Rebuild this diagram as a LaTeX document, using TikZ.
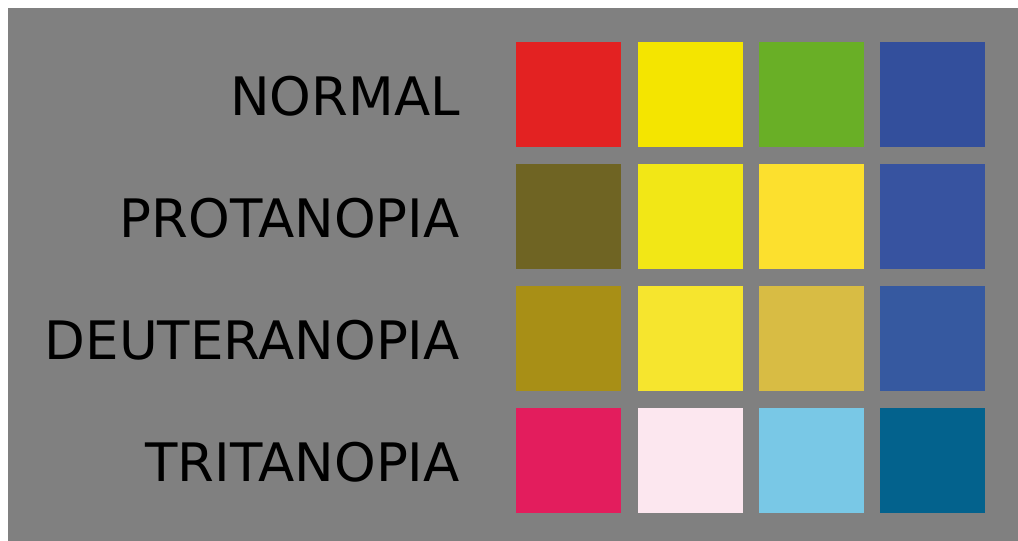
\documentclass[tikz,border=0pt]{standalone}
\usepackage{fontspec}
\setmainfont{DejaVu Sans}
\usetikzlibrary{positioning}

\definecolor{bggray}{HTML}{808080}
\definecolor{normRed}{HTML}{E32222}
\definecolor{normYellow}{HTML}{F4E500}
\definecolor{normGreen}{HTML}{69AF26}
\definecolor{normBlue}{HTML}{334F9C}
\definecolor{protRed}{HTML}{6F6423}
\definecolor{protYellow}{HTML}{F2E716}
\definecolor{protGreen}{HTML}{FCE02E}
\definecolor{protBlue}{HTML}{3753A0}
\definecolor{deutRed}{HTML}{A88F16}
\definecolor{deutYellow}{HTML}{F6E52E}
\definecolor{deutGreen}{HTML}{D8BC44}
\definecolor{deutBlue}{HTML}{3659A0}
\definecolor{tritRed}{HTML}{E31D5D}
\definecolor{tritYellow}{HTML}{FCE7EF}
\definecolor{tritGreen}{HTML}{79C8E6}
\definecolor{tritBlue}{HTML}{03628D}

\tikzset{
    swatch/.style={anchor=north west, inner sep=0pt, minimum size=105pt},
    rowlabel/.style={anchor=base east, inner sep=0pt, font=\fontsize{53}{60}\selectfont}
}

\begin{document}
\begin{tikzpicture}[x=1pt,y=-1pt]
        % Define dimensions
        \def\colstep{121.4}
        \def\rowstep{122}
        \useasboundingbox (0,0) rectangle (1018,541);
        % Background
        \fill[white] (0,0) rectangle (1018,541);
        \fill[bggray] (8,8) rectangle (1018,541);
        % Row labels
        \foreach \name [count=\r from 0] in {NORMAL,PROTANOPIA,DEUTERANOPIA,TRITANOPIA}
            \node[rowlabel] (label\r) at (460,115+\r*\rowstep) {\name};
        % Colour squares
        \foreach \ca/\cb/\cc/\cd [count=\r from 0] in {normRed/normYellow/normGreen/normBlue,
                protRed/protYellow/protGreen/protBlue,
                deutRed/deutYellow/deutGreen/deutBlue,
                tritRed/tritYellow/tritGreen/tritBlue}
            \foreach \c [count=\k from 0] in {\ca,\cb,\cc,\cd}
                \node[swatch, fill=\c] (sq\r\k) at (516+\k*\colstep,42+\r*\rowstep) {};
    \end{tikzpicture}
\end{document}
